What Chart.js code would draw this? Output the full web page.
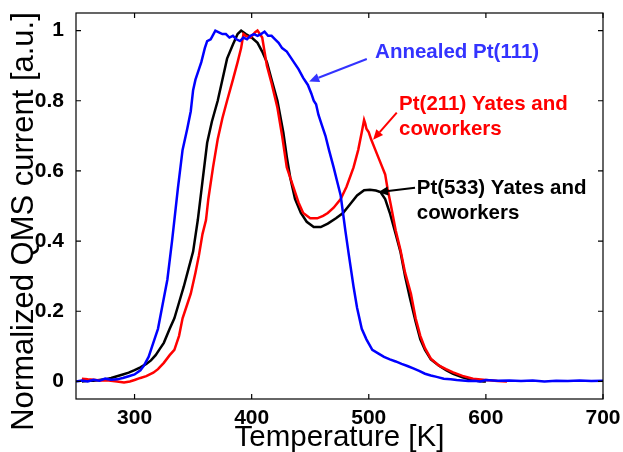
<!DOCTYPE html>
<html>
<head>
<meta charset="utf-8">
<script src="https://cdn.jsdelivr.net/npm/chart.js@4.4.0/dist/chart.umd.min.js"></script>
<style>
html, body { margin: 0; padding: 0; background: #fff; }
</style>
</head>
<body>
<canvas id="tpdChart" width="623" height="452"></canvas>
<script>
// Annealed Pt(111)
const tempPt111 = [250, 255, 260, 265, 270, 275, 280, 285, 290, 295, 300, 305, 308, 312, 315, 318, 320, 324, 328, 332,
  334, 337, 341, 345, 348, 350, 352, 355, 357, 360, 362, 365, 369, 372, 375, 378, 381, 384, 387, 390,
  393, 396, 399, 402, 405, 408, 411, 414, 417, 420, 423, 426, 430, 433, 436, 440, 444, 448, 451, 453,
  455, 457, 460, 463, 466, 470, 473, 476, 478, 480, 483, 487, 490, 494, 498, 503, 508, 513, 518, 523,
  528, 533, 538, 543, 548, 553, 558, 564, 570, 575, 580, 585, 590, 595, 600, 610, 620, 630, 640, 650,
  660, 670, 680, 690, 700];
const qmsPt111 = [0.0, 0.003, 0.0, 0.005, 0.002, 0.008, 0.005, 0.006, 0.01, 0.015, 0.02, 0.032, 0.045, 0.07, 0.10, 0.13, 0.15, 0.22, 0.29, 0.40,
  0.46, 0.55, 0.66, 0.72, 0.77, 0.83, 0.86, 0.89, 0.91, 0.95, 0.97, 0.975, 1.0, 0.995, 0.99, 0.99, 0.98, 0.985, 0.975, 0.97,
  0.98, 0.975, 0.985, 0.99, 0.985, 0.99, 0.997, 0.985, 0.985, 0.975, 0.965, 0.95, 0.94, 0.925, 0.91, 0.89, 0.865, 0.845, 0.82, 0.80,
  0.79, 0.76, 0.73, 0.70, 0.66, 0.61, 0.57, 0.53, 0.48, 0.43, 0.36, 0.27, 0.21, 0.15, 0.12, 0.09, 0.08, 0.07, 0.063, 0.057,
  0.05, 0.044, 0.037, 0.03, 0.022, 0.017, 0.013, 0.008, 0.006, 0.004, 0.003, 0.001, 0.002, 0.0, 0.004, 0.002, 0.003, 0.001, 0.003, 0.0,
  0.002, 0.001, 0.003, 0.001, 0.002];

// Pt(211) Yates and coworkers
const tempPt211 = [255, 260, 265, 271, 278, 285, 291, 296, 300, 305, 310, 316, 320, 325, 330, 334, 338, 341, 345, 348,
  352, 355, 358, 361, 363, 367, 371, 375, 379, 384, 388, 391, 393, 395, 399, 403, 405, 407, 409, 411,
  413, 417, 422, 426, 430, 433, 436, 440, 444, 450, 456, 461, 465, 470, 476, 481, 487, 491, 494, 496,
  497, 498, 500, 502, 505, 508, 511, 514, 516, 519, 523, 527, 531, 536, 540, 544, 548, 553, 560, 566,
  572, 580, 589, 600, 610, 618];
const qmsPt211 = [0.008, 0.006, 0.005, 0.003, 0.003, 0.0, -0.003, 0.0, 0.004, 0.01, 0.015, 0.025, 0.035, 0.053, 0.075, 0.09, 0.13, 0.18, 0.22, 0.25,
  0.31, 0.36, 0.42, 0.46, 0.52, 0.61, 0.69, 0.75, 0.80, 0.86, 0.91, 0.95, 0.99, 0.985, 0.98, 0.995, 1.0, 0.99, 0.98, 0.94,
  0.90, 0.85, 0.78, 0.70, 0.61, 0.58, 0.55, 0.51, 0.48, 0.465, 0.465, 0.472, 0.48, 0.495, 0.52, 0.555, 0.61, 0.66, 0.71, 0.745,
  0.735, 0.72, 0.71, 0.69, 0.665, 0.64, 0.615, 0.59, 0.55, 0.50, 0.43, 0.375, 0.31, 0.25, 0.18, 0.13, 0.095, 0.065, 0.045, 0.035,
  0.026, 0.016, 0.008, 0.004, 0.001, 0.0];

// Pt(533) Yates and coworkers
const tempPt533 = [255, 260, 265, 270, 275, 280, 285, 290, 295, 300, 305, 310, 314, 318, 322, 325, 330, 334, 338, 342,
  346, 350, 354, 358, 362, 366, 371, 375, 379, 384, 388, 391, 395, 400, 405, 409, 413, 417, 422, 427,
  430, 433, 437, 442, 447, 453, 459, 465, 472, 478, 484, 490, 496, 501, 506, 510, 514, 518, 523, 527,
  531, 535, 540, 544, 548, 553, 560, 566, 572, 580, 586, 592, 598, 600];
const qmsPt533 = [0.0, 0.002, 0.002, 0.004, 0.006, 0.01, 0.015, 0.02, 0.025, 0.032, 0.04, 0.05, 0.06, 0.075, 0.095, 0.11, 0.15, 0.18, 0.225, 0.27,
  0.32, 0.37, 0.46, 0.57, 0.68, 0.74, 0.80, 0.86, 0.92, 0.96, 0.99, 1.0, 0.99, 0.98, 0.965, 0.94, 0.91, 0.86, 0.80, 0.71,
  0.64, 0.58, 0.52, 0.48, 0.455, 0.44, 0.44, 0.45, 0.465, 0.48, 0.505, 0.53, 0.545, 0.546, 0.544, 0.54, 0.52, 0.48, 0.42, 0.37,
  0.30, 0.24, 0.17, 0.12, 0.09, 0.063, 0.045, 0.032, 0.022, 0.012, 0.006, 0.002, 0.0, 0.0];

const xTicks = [300, 400, 500, 600, 700];
const yTicks = [0, 0.2, 0.4, 0.6, 0.8, 1];

const FONT = "'Liberation Sans', Arial, sans-serif";

// callouts: text anchor, arrow tail and arrow tip, all in data units
const callouts = [
  { lines: ['Annealed Pt(111)'], color: '#3333ff', at: [505.4, 0.937], from: [498.3, 0.919], to: [449.1, 0.855] },
  { lines: ['Pt(211) Yates and', 'coworkers'], color: '#ff0000', at: [525.9, 0.789], from: [523.9, 0.766], to: [503.7, 0.689] },
  { lines: ['Pt(533) Yates and', 'coworkers'], color: '#000000', at: [541, 0.549], from: [539.5, 0.552], to: [508, 0.539] }
];

function toPoints(xs, ys) {
  return xs.map((t, i) => ({ x: t, y: ys[i] }));
}

const framePlugin = {
  id: 'frame',
  afterDraw(chart) {
    const { ctx, chartArea: a, scales: { x, y } } = chart;
    ctx.save();
    ctx.strokeStyle = '#000';
    ctx.lineWidth = 1.2;
    ctx.strokeRect(a.left, a.top, a.right - a.left, a.bottom - a.top);
    ctx.beginPath();
    xTicks.forEach(v => {
      const p = x.getPixelForValue(v);
      ctx.moveTo(p, a.bottom); ctx.lineTo(p, a.bottom - 5);
      ctx.moveTo(p, a.top); ctx.lineTo(p, a.top + 5);
    });
    yTicks.forEach(v => {
      const p = y.getPixelForValue(v);
      ctx.moveTo(a.left, p); ctx.lineTo(a.left + 5, p);
      ctx.moveTo(a.right, p); ctx.lineTo(a.right - 5, p);
    });
    ctx.stroke();

    // axis titles
    ctx.fillStyle = '#000';
    ctx.textAlign = 'center';
    ctx.textBaseline = 'middle';
    ctx.font = '29.5px ' + FONT;
    ctx.fillText('Temperature [K]', (a.left + a.right) / 2, a.bottom + 38.5);
    ctx.save();
    ctx.translate(a.left - 52, (a.top + a.bottom) / 2 + 15.5);
    ctx.rotate(-Math.PI / 2);
    ctx.font = '31px ' + FONT;
    ctx.fillText('Normalized QMS current [a.u.]', 0, 0);
    ctx.restore();

    // callouts
    ctx.font = 'bold 20.5px ' + FONT;
    ctx.textAlign = 'left';
    callouts.forEach(c => {
      const tx = x.getPixelForValue(c.at[0]);
      const ty = y.getPixelForValue(c.at[1]);
      ctx.fillStyle = c.color;
      c.lines.forEach((ln, i) => ctx.fillText(ln, tx, ty + i * 25));
      const x0 = x.getPixelForValue(c.from[0]), y0 = y.getPixelForValue(c.from[1]);
      const x1 = x.getPixelForValue(c.to[0]), y1 = y.getPixelForValue(c.to[1]);
      const ang = Math.atan2(y1 - y0, x1 - x0);
      const head = 10, half = 4.5;
      const bx = x1 - head * Math.cos(ang), by = y1 - head * Math.sin(ang);
      ctx.strokeStyle = c.color;
      ctx.lineWidth = 2;
      ctx.beginPath();
      ctx.moveTo(x0, y0);
      ctx.lineTo(bx, by);
      ctx.stroke();
      ctx.beginPath();
      ctx.moveTo(x1, y1);
      ctx.lineTo(bx - half * Math.sin(ang), by + half * Math.cos(ang));
      ctx.lineTo(bx + half * Math.sin(ang), by - half * Math.cos(ang));
      ctx.closePath();
      ctx.fill();
    });
    ctx.restore();
  }
};

function fixedSize(prop, size) {
  return function (scale) {
    scale[prop] = size;
    scale.paddingLeft = 0; scale.paddingRight = 0;
    scale.paddingTop = 0; scale.paddingBottom = 0;
  };
}

const ctx = document.getElementById('tpdChart').getContext('2d');
new Chart(ctx, {
  type: 'line',
  data: {
    datasets: [
      { label: 'Annealed Pt(111)', data: toPoints(tempPt111, qmsPt111), borderColor: '#0000ff' },
      { label: 'Pt(211) Yates and coworkers', data: toPoints(tempPt211, qmsPt211), borderColor: '#ff0000' },
      { label: 'Pt(533) Yates and coworkers', data: toPoints(tempPt533, qmsPt533), borderColor: '#000000' }
    ]
  },
  options: {
    responsive: false,
    animation: false,
    devicePixelRatio: 1,
    layout: { padding: { top: 13, right: 20, bottom: 0, left: 0 } },
    elements: {
      line: { borderWidth: 2.5, tension: 0, fill: false },
      point: { radius: 0, hoverRadius: 0 }
    },
    plugins: {
      legend: { display: false },
      tooltip: { enabled: false }
    },
    scales: {
      x: {
        type: 'linear',
        min: 250,
        max: 700,
        grid: { display: false },
        border: { display: false },
        afterBuildTicks: s => { s.ticks = xTicks.map(v => ({ value: v })); },
        afterFit: fixedSize('height', 53),
        ticks: {
          color: '#000',
          padding: 1,
          maxRotation: 0,
          font: { family: FONT, size: 21, weight: 'bold', lineHeight: 1 }
        }
      },
      y: {
        type: 'linear',
        min: -0.05,
        max: 1.05,
        grid: { display: false },
        border: { display: false },
        afterBuildTicks: s => { s.ticks = yTicks.map(v => ({ value: v })); },
        afterFit: fixedSize('width', 76),
        ticks: {
          color: '#000',
          padding: 4,
          callback: v => String(v),
          font: { family: FONT, size: 21, weight: 'bold', lineHeight: 1 }
        }
      }
    }
  },
  plugins: [framePlugin]
});
</script>
</body>
</html>
